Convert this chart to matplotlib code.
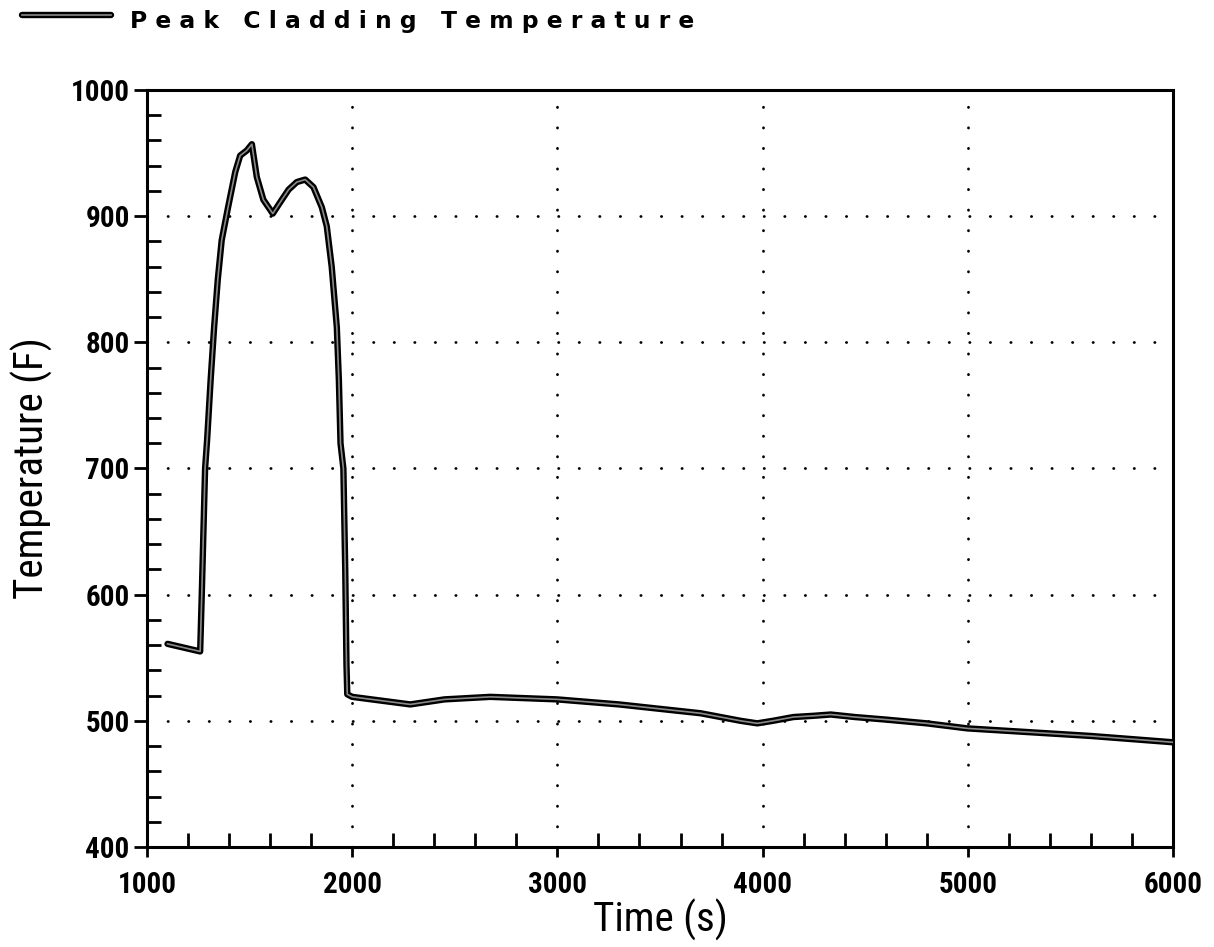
import matplotlib
matplotlib.use("Agg")
import matplotlib.pyplot as plt
from matplotlib.ticker import MultipleLocator

# ---- data ----
time_s = [1100, 1259, 1267, 1283, 1293, 1310, 1327, 1345, 1364, 1395, 1430, 1454,
          1486, 1511, 1535, 1567, 1613, 1649, 1690, 1730, 1771, 1811, 1852, 1876,
          1900, 1925, 1935, 1943, 1957, 1966, 1972, 1976, 2000, 2283, 2450, 2673,
          2998, 3300, 3698, 3893, 3974, 4050, 4150, 4250, 4332, 4450, 4600, 4800,
          4998, 5300, 5600, 6000]
temp_f = [561, 555, 601, 700, 723, 770, 812, 850, 881, 907, 935, 948,
          952, 957, 931, 913, 902, 911, 921, 927, 929, 923, 907, 892,
          860, 812, 770, 720, 700, 620, 545, 521, 519, 513, 517, 519,
          517, 513, 506, 500, 498, 500, 503, 504, 505, 503, 501, 498,
          494, 491, 488, 483]
series_label = "Peak Cladding Temperature"
x_label = "Time (s)"
y_label = "Temperature (F)"

narrow = ['Roboto Condensed', 'Liberation Sans Narrow', 'Roboto', 'DejaVu Sans']

fig = plt.figure(figsize=(12.14, 9.47), dpi=100)
ax = fig.add_axes([0.1211, 0.1056, 0.8451, 0.7994])

ax.plot(time_s, temp_f, color='black', lw=4.6, solid_joinstyle='round',
        solid_capstyle='round', zorder=3)
ax.plot(time_s, temp_f, color='#8a8a8a', lw=1.2, solid_joinstyle='round', zorder=4)

ax.set_xlim(1000, 6000)
ax.set_ylim(400, 1000)
ax.xaxis.set_major_locator(MultipleLocator(1000))
ax.xaxis.set_minor_locator(MultipleLocator(200))
ax.yaxis.set_major_locator(MultipleLocator(100))
ax.yaxis.set_minor_locator(MultipleLocator(20))

ax.tick_params(axis='x', which='major', direction='out', length=7.5, width=2,
               color='black', labelsize=21, pad=10)
ax.tick_params(axis='y', which='major', direction='out', length=9.5, width=2,
               color='black', labelsize=21, pad=3)
ax.tick_params(which='minor', direction='in', length=10, width=2, color='black')
for lab in ax.get_xticklabels() + ax.get_yticklabels():
    lab.set_fontfamily(narrow)
    lab.set_fontweight('bold')
    lab.set_fontstretch('condensed')

for sp in ax.spines.values():
    sp.set_linewidth(2.2)

ax.grid(True, which='major', color='black', linestyle=(0, (0.1, 7.3)),
        linewidth=2.0)
for gl in ax.get_xgridlines() + ax.get_ygridlines():
    gl.set_dash_capstyle('round')

ax.set_xlabel(x_label, fontsize=29.5, family=narrow, fontstretch='condensed')
ax.set_ylabel(y_label, fontsize=29.5, family=narrow, fontstretch='condensed')
ax.xaxis.set_label_coords(0.5, -0.068)
ax.yaxis.set_label_coords(-0.092, 0.501)

# legend at top
leg_ax = fig.add_axes([0, 0.94, 1, 0.06])
leg_ax.set_xlim(0, 1214)
leg_ax.set_ylim(0, 57)
leg_ax.axis('off')
leg_ax.plot([22, 111], [42, 42], color='black', lw=4.6, solid_capstyle='round')
leg_ax.plot([22, 111], [42, 42], color='#8a8a8a', lw=1.2)
leg_ax.text(130, 35, " ".join(series_label), fontsize=16.9, fontweight='bold',
            family='DejaVu Sans', va='center', ha='left')

fig.savefig("out.png", dpi=100)
